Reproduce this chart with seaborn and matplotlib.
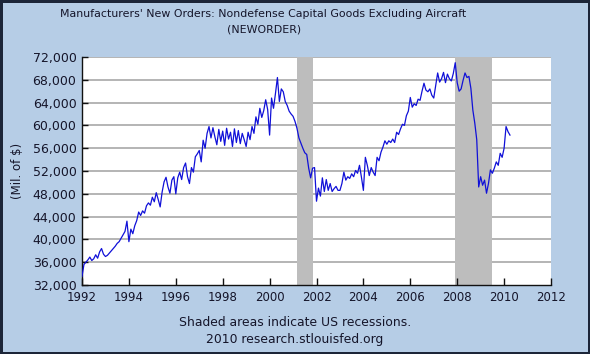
import matplotlib
matplotlib.use('Agg')
import matplotlib.pyplot as plt
import numpy as np
import pandas as pd
import seaborn as sns

# monthly values, Mil. of $ (thousands), Jan 1992 - Apr 2010
orders_k = [
    # 1992
    33.5, 35.6, 36.0, 36.4, 36.9, 36.3, 36.6, 37.3, 36.7, 37.8, 38.4, 37.4,
    # 1993
    37.0, 37.2, 37.6, 38.0, 38.4, 38.8, 39.3, 39.6, 40.2, 40.8, 41.4, 43.2,
    # 1994
    39.6, 41.8, 41.0, 42.4, 43.3, 44.8, 44.2, 45.0, 44.6, 45.9, 46.4, 46.0,
    # 1995
    47.4, 46.6, 48.2, 47.0, 45.7, 48.3, 50.1, 50.9, 49.2, 48.1, 50.4, 51.0,
    # 1996
    48.0, 50.8, 51.8, 50.5, 52.6, 53.4, 51.0, 49.8, 52.6, 51.8, 54.5, 55.0,
    # 1997
    55.6, 53.6, 57.4, 56.0, 58.6, 59.8, 57.8, 59.6, 58.0, 56.6, 59.3, 57.2,
    # 1998
    59.0, 56.5, 59.5, 57.6, 58.8, 56.3, 59.4, 57.0, 59.1, 56.8, 58.6, 57.5,
    # 1999
    56.3, 58.8, 57.5, 59.8, 58.6, 61.5, 60.2, 63.0, 61.4, 62.6, 64.5, 62.8,
    # 2000
    58.3, 64.8, 63.0, 65.6, 68.4, 64.2, 66.4, 65.9, 64.2, 63.5, 62.5, 62.0,
    # 2001
    61.6, 60.7, 59.5, 57.8, 56.9, 56.0, 55.2, 54.9, 52.5, 50.8, 52.5, 52.6,
    # 2002
    46.7, 49.0, 47.6, 50.8, 48.4, 50.5, 48.6, 49.8, 48.4, 48.9, 49.3, 48.6,
    # 2003
    48.6, 49.8, 51.8, 50.4, 51.0, 50.7, 51.5, 51.0, 52.1, 51.6, 53.0, 50.9,
    # 2004
    48.6, 54.4, 53.0, 51.2, 52.6, 51.8, 51.2, 54.4, 53.8, 55.3, 56.2, 57.3,
    # 2005
    56.7, 57.3, 57.0, 57.6, 57.0, 58.8, 58.4, 59.4, 60.2, 60.0, 61.7, 62.5,
    # 2006
    64.9, 63.2, 63.8, 63.5, 64.6, 64.4, 66.0, 67.4, 66.2, 65.9, 66.4, 65.3,
    # 2007
    64.8, 67.0, 69.2, 67.6, 68.2, 69.3, 67.5, 69.0, 68.2, 67.8, 69.1, 71.0,
    # 2008
    67.5, 66.0, 66.4, 67.9, 69.2, 68.4, 68.6, 66.5, 62.7, 60.4, 57.5, 49.2,
    # 2009
    51.0, 49.5, 50.4, 48.1, 49.8, 52.2, 51.6, 52.5, 53.6, 53.0, 55.1, 54.4,
    # 2010
    56.0, 59.8, 58.9, 58.3,
]

rec_start = [2001.17, 2007.92]
rec_end = [2001.85, 2009.50]

x_ticks = list(range(1992, 2013, 2))
y_ticks = list(range(32000, 72001, 4000))

dates = pd.date_range('1992-01-01', periods=len(orders_k), freq='MS')
df = pd.DataFrame({
    'year': dates.year + (dates.month - 1) / 12.0,
    'value': np.array(orders_k) * 1000,
})

bg = '#b6cde6'
txt = '#15152a'

fig = plt.figure(figsize=(5.9, 3.54), dpi=100, facecolor=bg,
                 edgecolor='#1c2538', linewidth=2.5)
ax = fig.add_axes([82 / 590, 1 - 285 / 354, (551 - 82) / 590, (285 - 57) / 354])
ax.set_facecolor('white')

# recession bands
for s, e in zip(rec_start, rec_end):
    ax.axvspan(s, e, color='#bdbdbd', lw=0, zorder=1)

for yv in y_ticks[1:]:
    ax.axhline(yv, color='#a8a8a8', lw=1.2, zorder=0.5)

sns.lineplot(data=df, x='year', y='value', ax=ax, color='#1010d8', lw=0.9, zorder=3)

ax.set_xlim(1992, 2012)
ax.set_ylim(32000, 72000)
ax.set_xticks(x_ticks)
ax.set_yticks(y_ticks)
ax.set_yticklabels([f'{v:,}' for v in y_ticks])
ax.tick_params(axis='x', direction='in', length=5, width=1, colors='#111',
               labelcolor=txt, labelsize=8.5, pad=4)
ax.tick_params(axis='y', direction='in', length=4, width=1, colors='#111',
               labelcolor=txt, labelsize=9, pad=4)
ax.set_xlabel('')
ax.set_ylabel('(Mil. of $)', color=txt, fontsize=8.5, labelpad=6)

for side in ['top', 'right']:
    ax.spines[side].set_visible(False)
for side in ['left', 'bottom']:
    ax.spines[side].set_color('#111')
    ax.spines[side].set_linewidth(1)

fig.text(263 / 590, 1 - 14 / 354, "Manufacturers' New Orders: Nondefense Capital Goods Excluding Aircraft",
         ha='center', va='center', fontsize=7.9, color=txt)
fig.text(264 / 590, 1 - 30 / 354, '(NEWORDER)', ha='center', va='center', fontsize=7.9, color=txt)
fig.text(295 / 590, 1 - 323 / 354, 'Shaded areas indicate US recessions.',
         ha='center', va='center', fontsize=8.9, color=txt)
fig.text(295 / 590, 1 - 340 / 354, '2010 research.stlouisfed.org',
         ha='center', va='center', fontsize=8.9, color=txt)

fig.savefig('out.png', dpi=100, facecolor=bg, edgecolor='#1c2538')
